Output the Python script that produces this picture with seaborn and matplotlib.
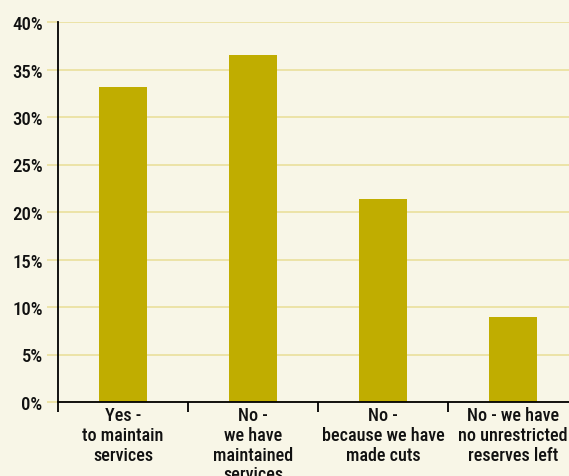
import matplotlib
matplotlib.use("Agg")
import matplotlib.pyplot as plt
import seaborn as sns
import pandas as pd
from matplotlib.ticker import FuncFormatter

categories = ["Yes -\nto maintain\nservices",
              "No -\nwe have\nmaintained\nservices",
              "No -\nbecause we have\nmade cuts",
              "No - we have\nno unrestricted\nreserves left"]
values = [33.2, 36.5, 21.4, 9.0]
yticks = [0, 5, 10, 15, 20, 25, 30, 35, 40]

BG = "#f8f6e7"
GRID = "#ebe1a2"
BAR = "#c0ad00"

sns.set_theme(style="white")
plt.rcParams['font.family'] = ['Roboto Condensed', 'Liberation Sans Narrow', 'Liberation Sans', 'DejaVu Sans']

fig = plt.figure(figsize=(5.69, 4.77), dpi=100, facecolor=BG)
W, H = 569, 477
ax = fig.add_axes([58 / W, 74 / H, 520 / W, 380 / H])
ax.set_facecolor(BG)

df = pd.DataFrame({"cat": categories, "val": values})
sns.barplot(data=df, x="cat", y="val", color=BAR, width=0.37, saturation=1,
            linewidth=0, edgecolor=BAR, ax=ax, zorder=3)

ax.set_xlim(-0.5, 3.5)
ax.set_ylim(0, 40)
ax.set_yticks(yticks)
ax.yaxis.set_major_formatter(FuncFormatter(lambda v, p: f"{int(v)}%"))
ax.grid(axis="y", color=GRID, linewidth=1.3, zorder=0)
ax.grid(axis="x", visible=False)
ax.set_xlabel("")
ax.set_ylabel("")

for s in ["top", "right"]:
    ax.spines[s].set_visible(False)
for s in ["left", "bottom"]:
    ax.spines[s].set_visible(True)
    ax.spines[s].set_color("black")
    ax.spines[s].set_linewidth(1.3)
    ax.spines[s].set_zorder(4)

ax.tick_params(axis="y", which="major", left=True, length=8, width=1.3,
               color=GRID, labelsize=13.5, pad=3, labelcolor="#111111")
ax.tick_params(axis="x", which="major", bottom=False, length=0,
               labelsize=13, pad=3, labelcolor="#111111")
ax.set_xticks([-0.5, 0.5, 1.5, 2.5], minor=True)
ax.tick_params(axis="x", which="minor", bottom=True, length=7, width=1.3,
               color="black")
for lab in ax.get_xticklabels():
    lab.set_linespacing(1.12)
for lab in ax.get_xticklabels() + ax.get_yticklabels():
    lab.set_fontweight("medium")

fig.savefig("out.png", dpi=100, facecolor=BG)
